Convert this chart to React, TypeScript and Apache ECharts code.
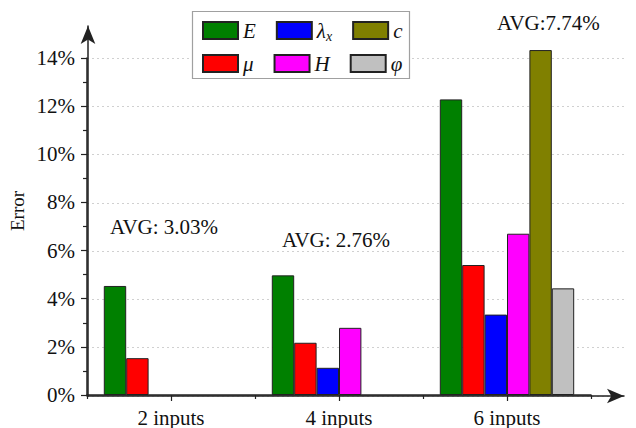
import React, { useEffect, useRef } from "react";
import * as echarts from "echarts";

const categories = ["2 inputs", "4 inputs", "6 inputs"];
const seriesNames = ["E", "μ", "λx", "H", "c", "φ"];
const legendRow1 = ["E", "λx", "c"];
const legendRow2 = ["μ", "H", "φ"];
const valuesE = [4.53, 4.97, 12.28];
const valuesMu = [1.53, 2.17, 5.4];
const valuesLambda = [null, 1.13, 3.34];
const valuesH = [null, 2.79, 6.7];
const valuesC = [null, null, 14.33];
const valuesPhi = [null, null, 4.43];
const seriesValues = [valuesE, valuesMu, valuesLambda, valuesH, valuesC, valuesPhi];
const seriesColors = ["#008000", "#ff0000", "#0000ff", "#ff00ff", "#808000", "#c0c0c0"];
const avgLabels = ["AVG: 3.03%", "AVG: 2.76%", "AVG:7.74%"];

const FONT = "Liberation Serif, serif";
const INK = "#111";
const AXIS = "#222";

function legendFormatter(name: string) {
  if (name === "λx") return "{i|λ}{sub|x}";
  return "{i|" + name + "}";
}

const legendText = {
  fontFamily: FONT,
  color: INK,
  rich: {
    i: { fontFamily: FONT, fontStyle: "italic", fontSize: 21, color: INK },
    sub: {
      fontFamily: FONT,
      fontStyle: "italic",
      fontSize: 14,
      color: INK,
      verticalAlign: "bottom",
      padding: [11, 0, 0, 0],
    },
  },
};

export default function App() {
  const ref = useRef<HTMLDivElement>(null);
  useEffect(() => {
    if (!ref.current) return;
    const chart = echarts.init(ref.current, null, { renderer: "svg" });
    const option: any = {
      animation: false,
      backgroundColor: "#fff",
      grid: [
        { left: 87, right: 45, top: 58, bottom: 32 },
        { left: 87, right: 12, top: 58, bottom: 32 },
        { left: 87, right: 12, top: 26, bottom: 32 },
      ],
      legend: [
        {
          data: legendRow1,
          left: 202,
          top: 20,
          itemWidth: 35,
          itemHeight: 17,
          itemGap: 20,
          selectedMode: false,
          icon: "rect",
          formatter: legendFormatter,
          textStyle: legendText,
          padding: 0,
        },
        {
          data: legendRow2,
          left: 202,
          top: 53,
          itemWidth: 35,
          itemHeight: 17,
          itemGap: 20,
          selectedMode: false,
          icon: "rect",
          formatter: legendFormatter,
          textStyle: legendText,
          padding: 0,
        },
      ],
      xAxis: [
        {
          type: "category",
          gridIndex: 0,
          data: categories,
          axisLine: { show: true, lineStyle: { color: AXIS, width: 1.5 } },
          axisTick: { show: true, length: 4, lineStyle: { color: AXIS, width: 1.2 } },
          axisLabel: { fontFamily: FONT, fontSize: 21, color: INK, margin: 12 },
          splitLine: { show: false },
        },
        {
          type: "category",
          gridIndex: 0,
          data: categories,
          position: "bottom",
          axisLine: { show: false },
          axisTick: { show: true, alignWithLabel: true, length: 6, lineStyle: { color: AXIS, width: 1.2 } },
          axisLabel: { show: false },
          splitLine: { show: false },
        },
        {
          type: "value",
          gridIndex: 1,
          min: 0,
          max: 1,
          axisLine: {
            show: true,
            onZero: false,
            symbol: ["none", "arrow"],
            symbolSize: [11, 17],
            lineStyle: { color: AXIS, width: 1.5 },
          },
          axisTick: { show: false },
          axisLabel: { show: false },
          splitLine: { show: false },
        },
        {
          type: "value",
          gridIndex: 2,
          min: 0,
          max: 1,
          show: false,
        },
      ],
      yAxis: [
        {
          type: "value",
          gridIndex: 0,
          min: 0,
          max: 14,
          interval: 2,
          axisLine: { show: true, lineStyle: { color: AXIS, width: 1.5 } },
          axisTick: { show: true, length: 6, lineStyle: { color: AXIS, width: 1.2 } },
          minorTick: { show: true, splitNumber: 2, length: 4, lineStyle: { color: AXIS, width: 1.2 } },
          axisLabel: { formatter: "{value}%", fontFamily: FONT, fontSize: 21, color: INK, margin: 12 },
          splitLine: { show: false },
        },
        {
          type: "value",
          gridIndex: 1,
          min: 0,
          max: 14,
          interval: 2,
          axisLine: { show: false },
          axisTick: { show: false },
          axisLabel: { show: false },
          splitLine: { show: true, lineStyle: { color: "#d0d0d0", type: [2, 3], width: 1 } },
        },
        {
          type: "value",
          gridIndex: 2,
          min: 0,
          max: 1,
          name: "Error",
          nameLocation: "middle",
          nameGap: 61,
          nameTextStyle: { fontFamily: FONT, fontSize: 19, color: INK },
          axisLine: {
            show: true,
            symbol: ["none", "arrow"],
            symbolSize: [11, 18],
            lineStyle: { color: AXIS, width: 1.5 },
          },
          axisTick: { show: false },
          axisLabel: { show: false },
          splitLine: { show: false },
        },
      ],
      graphic: [
        {
          type: "rect",
          z: 3,
          shape: { x: 192.5, y: 11.5, width: 217, height: 67 },
          style: { fill: "#fff", stroke: "#a0a0a0", lineWidth: 1.2 },
        },
        {
          type: "text",
          left: 110,
          top: 216,
          style: { text: avgLabels[0], fontFamily: FONT, fontSize: 21, fill: INK },
        },
        {
          type: "text",
          left: 282,
          top: 229,
          style: { text: avgLabels[1], fontFamily: FONT, fontSize: 21, fill: INK },
        },
        {
          type: "text",
          left: 497,
          top: 12,
          style: { text: avgLabels[2], fontFamily: FONT, fontSize: 21, fill: INK },
        },
      ],
      series: seriesNames.map((name, i) => ({
        name,
        type: "bar",
        xAxisIndex: 0,
        yAxisIndex: 0,
        data: seriesValues[i],
        barGap: "0%",
        barCategoryGap: "20%",
        clip: false,
        itemStyle: { color: seriesColors[i], borderColor: "#222", borderWidth: 1 },
        emphasis: { disabled: true },
      })),
    };
    chart.setOption(option);
    return () => chart.dispose();
  }, []);
  return (
    <div
      ref={ref}
      style={{ position: "fixed", left: 0, top: 0, width: 636, height: 428 }}
    />
  );
}
